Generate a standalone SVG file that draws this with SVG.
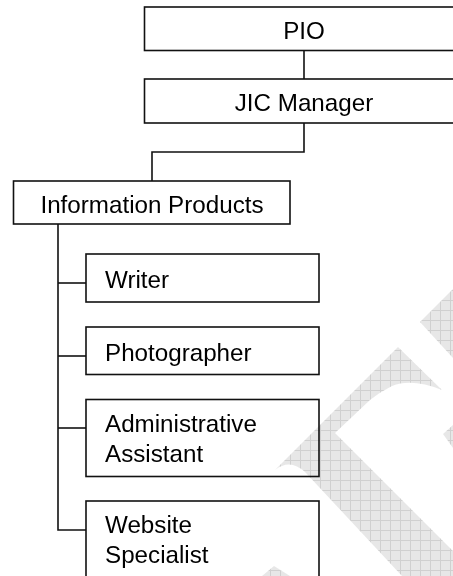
<svg xmlns="http://www.w3.org/2000/svg" width="453" height="576" viewBox="0 0 453 576">
  <style>
    .box { fill: none; stroke: #111; stroke-width: 1.6; }
    .link { fill: none; stroke: #111; stroke-width: 1.6; }
    .lbl { font-family: "Liberation Sans", Arial, sans-serif; font-size: 24.2px; fill: #000; }
    .mid { text-anchor: middle; }
    .mark { fill: url(#grid); }
  </style>
  <defs>
    <pattern id="grid" width="10" height="10" patternUnits="userSpaceOnUse">
      <rect width="10" height="10" fill="#e3e3e3"/>
      <path d="M0,0.5 H10 M0.5,0 V10" stroke="#c8c8c8" stroke-width="1"/>
    </pattern>
  </defs>

  <rect width="453" height="576" fill="#fff"/>

  <!-- connectors -->
  <g id="connectors">
    <path class="link" d="M304,50.5 V79"/>
    <path class="link" d="M304,123 V152 H152 V181"/>
    <path class="link" d="M58,224 V530 H86"/>
    <path class="link" d="M58,283 H86"/>
    <path class="link" d="M58,356 H86"/>
    <path class="link" d="M58,428 H86"/>
  </g>

  <g id="pio">
    <rect class="box" x="144.5" y="7" width="330" height="43.5"/>
    <text class="lbl mid" x="304" y="39">PIO</text>
  </g>
  <g id="jic-manager">
    <rect class="box" x="144.5" y="79" width="330" height="44"/>
    <text class="lbl mid" x="304" y="111">JIC Manager</text>
  </g>
  <g id="information-products">
    <rect class="box" x="13.5" y="181" width="276.5" height="43"/>
    <text class="lbl mid" x="152" y="212.7">Information Products</text>
  </g>
  <g id="writer">
    <rect class="box" x="86" y="254" width="233" height="48"/>
    <text class="lbl" x="105" y="287.7">Writer</text>
  </g>
  <g id="photographer">
    <rect class="box" x="86" y="327" width="233" height="47.5"/>
    <text class="lbl" x="105" y="360.7">Photographer</text>
  </g>
  <g id="administrative-assistant">
    <rect class="box" x="86" y="399.5" width="233" height="77"/>
    <text class="lbl" x="105" y="432.3">Administrative</text>
    <text class="lbl" x="105" y="461.7">Assistant</text>
  </g>
  <g id="website-specialist">
    <rect class="box" x="86" y="501" width="233" height="100"/>
    <text class="lbl" x="105" y="533.3">Website</text>
    <text class="lbl" x="105" y="562.7">Specialist</text>
  </g>

  <!-- faint background emblem, partly cut off at the page edge -->
  <g id="emblem" opacity="0.85" style="mix-blend-mode: multiply">
    <path class="mark" d="M398,347 L442,390 Q412,378 392,386 Q380,392 370,400 L335,433 L453,551 L453,576 L402,576 L305,472 Q290,458 275,470 Z"/>
    <path class="mark" d="M420,322 L453,289 L453,358 Z"/>
    <path class="mark" d="M443,434 L453,425 L453,448 Z"/>
    <path class="mark" d="M262,576 L274,566 L290,576 Z"/>
  </g>
</svg>
